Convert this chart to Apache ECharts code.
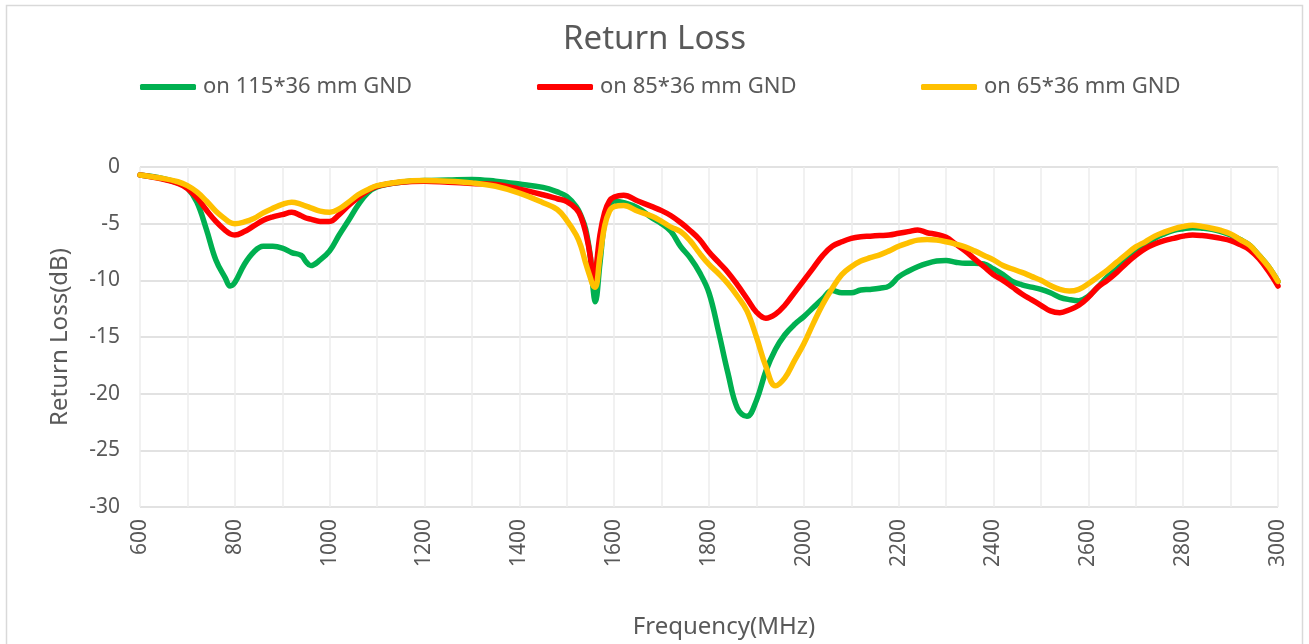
<!DOCTYPE html>
<html>
<head>
<meta charset="utf-8">
<script src="https://cdn.jsdelivr.net/npm/echarts@6/dist/echarts.min.js"></script>
<style>
html,body{margin:0;padding:0;background:#fff;}
#c{width:1309px;height:644px;}
</style>
</head>
<body>
<div id="c"></div>
<script>
const freq = [600,640,680,700,720,740,760,780,790,800,820,840,860,880,900,920,940,950,960,980,1000,1020,1040,1060,1080,1100,1150,1200,1250,1300,1350,1400,1450,1480,1500,1520,1530,1540,1550,1555,1560,1570,1580,1590,1600,1620,1650,1680,1700,1720,1740,1760,1780,1800,1820,1840,1860,1880,1900,1920,1940,1960,1980,2000,2020,2040,2060,2080,2100,2120,2140,2160,2180,2200,2220,2240,2260,2280,2300,2320,2340,2360,2380,2400,2420,2440,2460,2480,2500,2520,2540,2560,2580,2600,2620,2640,2660,2680,2700,2720,2740,2760,2780,2800,2820,2840,2860,2880,2900,2920,2940,2960,2980,3000];

const gnd115 = [-0.7,-0.95,-1.4,-1.85,-3.1,-5.5,-8.2,-9.8,-10.5,-10.2,-8.6,-7.5,-7.0,-7.0,-7.15,-7.55,-7.8,-8.35,-8.7,-8.2,-7.4,-6.0,-4.7,-3.35,-2.3,-1.75,-1.35,-1.2,-1.15,-1.1,-1.25,-1.5,-1.8,-2.2,-2.6,-3.5,-4.3,-5.5,-8.0,-10.5,-11.9,-8.5,-4.8,-3.4,-3.0,-3.15,-3.6,-4.5,-5.0,-5.7,-7.0,-8.0,-9.3,-11.1,-14.5,-18.2,-21.3,-22.0,-20.6,-18.0,-16.1,-14.8,-13.9,-13.2,-12.4,-11.6,-10.9,-11.1,-11.1,-10.85,-10.8,-10.7,-10.5,-9.7,-9.2,-8.8,-8.5,-8.3,-8.25,-8.4,-8.5,-8.5,-8.55,-9.0,-9.5,-10.1,-10.4,-10.6,-10.8,-11.1,-11.5,-11.7,-11.8,-11.4,-10.6,-9.7,-9.0,-8.2,-7.5,-6.9,-6.3,-5.9,-5.6,-5.45,-5.35,-5.4,-5.5,-5.7,-6.0,-6.4,-6.9,-7.8,-8.8,-10.1];

const gnd85 = [-0.7,-1.0,-1.45,-1.9,-2.7,-3.8,-4.8,-5.6,-5.9,-6.0,-5.7,-5.2,-4.7,-4.4,-4.2,-4.0,-4.3,-4.5,-4.6,-4.8,-4.8,-4.2,-3.4,-2.7,-2.1,-1.7,-1.35,-1.25,-1.35,-1.45,-1.55,-1.95,-2.45,-2.8,-3.05,-3.7,-4.4,-5.8,-8.0,-10.2,-9.5,-6.0,-4.0,-3.0,-2.65,-2.5,-3.0,-3.5,-3.85,-4.3,-4.9,-5.6,-6.4,-7.5,-8.4,-9.3,-10.4,-11.6,-12.8,-13.35,-13.0,-12.2,-11.1,-10.0,-8.9,-7.8,-7.0,-6.6,-6.3,-6.15,-6.1,-6.05,-6.0,-5.85,-5.7,-5.55,-5.8,-5.95,-6.2,-6.8,-7.4,-8.1,-8.8,-9.5,-10.0,-10.6,-11.2,-11.7,-12.2,-12.7,-12.85,-12.6,-12.2,-11.5,-10.6,-10.0,-9.3,-8.5,-7.8,-7.2,-6.8,-6.5,-6.3,-6.1,-6.0,-6.05,-6.15,-6.3,-6.5,-6.85,-7.3,-8.1,-9.2,-10.5];

const gnd65 = [-0.7,-0.95,-1.3,-1.65,-2.2,-3.0,-3.9,-4.6,-4.9,-5.0,-4.85,-4.55,-4.05,-3.65,-3.3,-3.1,-3.3,-3.45,-3.6,-3.9,-4.0,-3.7,-3.1,-2.45,-2.0,-1.65,-1.3,-1.2,-1.25,-1.4,-1.7,-2.3,-3.15,-3.75,-4.7,-6.0,-7.0,-8.5,-9.8,-10.4,-10.6,-7.9,-5.2,-3.9,-3.5,-3.4,-3.9,-4.35,-4.8,-5.3,-5.7,-6.5,-7.6,-8.6,-9.4,-10.3,-11.4,-12.7,-15.0,-17.6,-19.3,-18.6,-17.1,-15.6,-13.8,-12.1,-10.7,-9.5,-8.8,-8.3,-8.0,-7.75,-7.4,-7.0,-6.7,-6.45,-6.4,-6.45,-6.6,-6.8,-7.05,-7.4,-7.8,-8.2,-8.7,-9.0,-9.3,-9.65,-10.0,-10.45,-10.8,-10.95,-10.8,-10.3,-9.7,-9.1,-8.4,-7.7,-7.05,-6.6,-6.1,-5.75,-5.45,-5.25,-5.15,-5.25,-5.4,-5.6,-5.9,-6.4,-6.9,-7.8,-8.8,-10.1];

const seriesNames = ['on 115*36 mm GND','on 85*36 mm GND','on 65*36 mm GND'];
const seriesColors = ['#00B050','#FF0000','#FFC000'];
const seriesValues = [gnd115, gnd85, gnd65];

const FONT = 'Noto Sans';
const TXT = '#595959';

const chart = echarts.init(document.getElementById('c'));
const legendLefts = [140, 537, 921];

chart.setOption({
  animation: false,
  backgroundColor: '#fff',
  title: {
    text: 'Return Loss',
    left: 'center',
    top: 23,
    padding: 0,
    textStyle: {fontFamily: FONT, fontSize: 33, fontWeight: 'normal', color: TXT}
  },
  legend: seriesNames.map((n, i) => ({
    data: [n],
    left: legendLefts[i],
    top: 76,
    padding: 0,
    icon: 'roundRect',
    itemWidth: 56,
    itemHeight: 6,
    itemGap: 0,
    textStyle: {fontFamily: FONT, fontSize: 22, color: TXT, padding: [0,0,0,2]}
  })),
  graphic: [{
    type: 'rect',
    shape: {x: 6.5, y: 5.5, width: 1296, height: 700},
    style: {fill: 'none', stroke: '#D9D9D9', lineWidth: 1.5},
    silent: true, z: -10
  }],
  grid: {left: 140, right: 31, top: 167, bottom: 137},
  xAxis: {
    type: 'value',
    min: 600, max: 3000, interval: 200,
    name: 'Frequency(MHz)',
    nameLocation: 'middle',
    nameGap: 108,
    nameTextStyle: {fontFamily: FONT, fontSize: 24, color: TXT, verticalAlign: 'top', padding: [0,0,0,30]},
    axisLine: {show: false},
    axisTick: {show: false},
    axisLabel: {rotate: 90, margin: 12, fontFamily: FONT, fontSize: 21, color: TXT, formatter: v => String(v)},
    splitLine: {show: true, lineStyle: {color: '#EDEDED', width: 1.5}},
    minorTick: {show: false, splitNumber: 2},
    minorSplitLine: {show: true, lineStyle: {color: '#EDEDED', width: 1.5}}
  },
  yAxis: {
    type: 'value',
    min: -30, max: 0, interval: 5,
    name: 'Return Loss(dB)',
    nameLocation: 'middle',
    nameGap: 68,
    nameTextStyle: {fontFamily: FONT, fontSize: 24, color: TXT},
    axisLine: {show: false},
    axisTick: {show: false},
    axisLabel: {margin: 20, fontFamily: FONT, fontSize: 21, color: TXT},
    splitLine: {show: true, lineStyle: {color: '#D9D9D9', width: 1.5}}
  },
  series: seriesNames.map((n, i) => ({
    name: n,
    type: 'line',
    data: freq.map((f, k) => [f, seriesValues[i][k]]),
    showSymbol: false,
    symbol: 'none',
    smooth: 0.4,
    color: seriesColors[i],
    lineStyle: {width: 5.5, color: seriesColors[i], cap: 'round', join: 'round'},
    z: 2 + i
  }))
});
</script>
</body>
</html>
